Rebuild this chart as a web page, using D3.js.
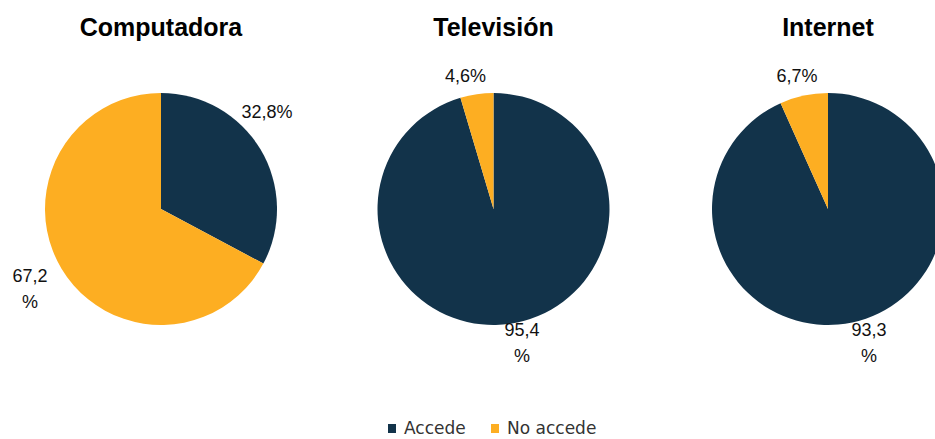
<!DOCTYPE html>
<html><head><meta charset="utf-8">
<script src="https://cdn.jsdelivr.net/npm/d3@7"></script>
<style>body{margin:0;background:#fff;overflow:hidden}svg{display:block}</style>
</head><body>
<script>
const titles = ["Computadora", "Televisión", "Internet"];
const categories = ["Accede", "No accede"];
const accede = [32.8, 95.4, 93.3];
const noAccede = [67.2, 4.6, 6.7];
const colors = ["#12334A", "#FDAE22"];

const W = 935, H = 439;
const svg = d3.select("body").append("svg").attr("width", W).attr("height", H);

const centersX = [161, 493.5, 828];
const cy = 209, R = 116;
// label offsets (layout only) relative to pie center: [accede, noAccede]
const labelOffsets = [
  [{dx:106, dy:-97, wrap:false}, {dx:-131, dy:67, wrap:true}],
  [{dx:28.5, dy:121, wrap:true}, {dx:-28, dy:-133, wrap:false}],
  [{dx:41, dy:121, wrap:true}, {dx:-31, dy:-133, wrap:false}]
];

const pie = d3.pie().sort(null).value(d => d.v);
const arc = d3.arc().innerRadius(0).outerRadius(R);
const fmt = v => v.toFixed(1).replace(".", ",");

titles.forEach((t, i) => {
  const g = svg.append("g").attr("transform", `translate(${centersX[i]},${cy})`);
  const data = categories.map((c, k) => ({c, k, v: k === 0 ? accede[i] : noAccede[i]}));
  g.selectAll("path").data(pie(data)).join("path")
    .attr("d", arc).attr("fill", d => colors[d.data.k]);
  svg.append("text").attr("x", centersX[i]).attr("y", 36)
    .attr("text-anchor", "middle").attr("font-family", "Liberation Sans, Arial, sans-serif")
    .attr("font-weight", "bold").attr("font-size", 25).attr("fill", "#000").text(t);
  data.forEach((d, k) => {
    const o = labelOffsets[i][k];
    const txt = svg.append("text").attr("text-anchor", "middle")
      .attr("font-family", "Liberation Sans, Arial, sans-serif").attr("font-size", 18).attr("fill", "#111");
    const x = centersX[i] + o.dx, y = cy + o.dy + 6;
    if (o.wrap) {
      txt.append("tspan").attr("x", x).attr("y", y).text(fmt(d.v));
      txt.append("tspan").attr("x", x).attr("y", y + 26).text("%");
    } else {
      txt.attr("x", x).attr("y", y).text(fmt(d.v) + "%");
    }
  });
});

// legend
const legX = [388, 491];
categories.forEach((c, k) => {
  svg.append("rect").attr("x", legX[k]).attr("y", 424).attr("width", 8).attr("height", 9).attr("fill", colors[k]);
  svg.append("text").attr("x", legX[k] + 16).attr("y", 434)
    .attr("font-family", "DejaVu Sans, sans-serif").attr("font-size", 17).attr("fill", "#333").text(c);
});
</script>
</body></html>
